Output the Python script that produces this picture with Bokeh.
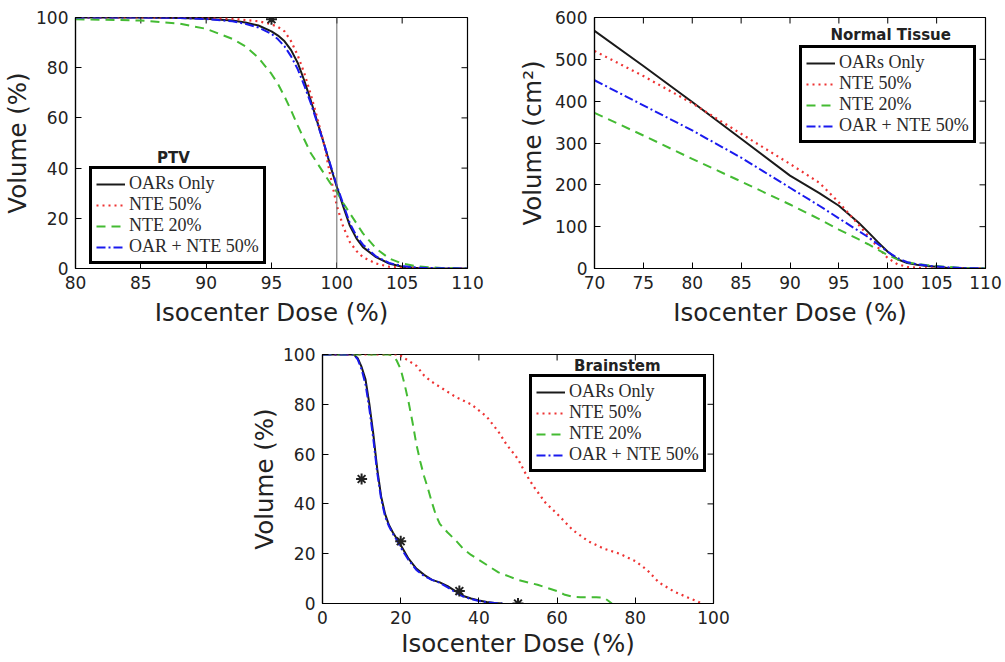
import math
from bokeh.plotting import figure
from bokeh.models import (Range1d, Legend, LegendItem, Label, Span, Spacer, FixedTicker)
from bokeh.layouts import column, row
from bokeh.embed import file_html
from bokeh.resources import INLINE

# ---------------- data ----------------
series_names = ["OARs Only", "NTE 50%", "NTE 20%", "OAR + NTE 50%"]

# PTV
ptv_dose = [80, 85, 88, 90, 92, 93, 94, 95, 95.5, 96, 96.5, 97, 97.5, 98, 98.5, 99,
            99.5, 100, 100.5, 101, 101.5, 102, 103, 104, 105, 106, 107, 108, 110]
ptv_oar = [100, 100, 99.8, 99.5, 98.8, 98, 96.8, 94.5, 92.8, 90.5, 87, 82, 75, 67, 58.5, 50,
           41, 32.5, 24.5, 17, 12, 8.5, 4.5, 2, 0.7, 0.3, 0.1, 0, 0]
ptv_nte50 = [100, 100, 100, 99.8, 99.5, 99, 98.5, 97.3, 96.2, 94.5, 90.5, 85, 78, 69.5, 60, 50,
             37, 25, 16.5, 10.5, 7, 4.5, 2, 0.7, 0.2, 0.1, 0, 0, 0]
ptv_nte20 = [99.3, 98.8, 97.5, 95.5, 91.5, 88.5, 84, 77.5, 73.5, 68.5, 63, 57, 51.5, 46, 42, 38,
             34, 30.5, 26, 22, 18, 14, 8, 4, 2, 1, 0.5, 0.2, 0]
ptv_oar_nte50 = [100, 100, 99.8, 99.4, 98.5, 97.5, 96, 93.5, 91.3, 88.5, 84.5, 79.5, 73, 66, 58, 50,
                 41.5, 33, 25.5, 18, 13, 9.5, 4.8, 2.2, 1, 0.4, 0.2, 0.1, 0]
ptv_ref_dose = 100
ptv_star_x = [95]
ptv_star_y = [99.3]

# Normal tissue
nt_dose = [70, 75, 80, 85, 90, 93, 95, 97, 98, 99, 100, 101, 102, 103, 104, 105, 106, 108, 110]
nt_oar = [568, 484, 398, 310, 222, 180, 150, 110, 87, 63, 40, 22, 13, 9, 6, 4, 2, 0.5, 0]
nt_nte50 = [520, 460, 395, 322, 250, 205, 158, 105, 78, 50, 25, 10, 4, 1.5, 0.5, 0.2, 0, 0, 0]
nt_nte20 = [372, 318, 262, 208, 153, 118, 93, 70, 58, 45, 32, 22, 15, 11, 8, 6, 4, 1, 0]
nt_oar_nte50 = [450, 390, 330, 265, 193, 150, 120, 90, 75, 58, 40, 25, 15, 10, 7, 5, 3, 1, 0]

# Brainstem
bs_oar_dose = [0, 8, 9, 10, 11, 12, 13, 14, 15, 16, 17, 18, 19, 20, 22, 24, 26, 28, 30, 32, 34,
               36, 38, 40, 42, 44, 46]
bs_oar = [100, 100, 98.5, 95, 90, 80, 68, 54, 43, 36, 31.5, 28.5, 26, 23.5, 18, 14, 11.5, 9.5,
          8.5, 7, 5, 3, 2, 1.2, 0.6, 0.2, 0]
bs_oar_nte50 = [100, 100, 98, 94, 88, 78, 66, 52.5, 42, 35, 31, 28, 25.5, 22.5, 17.5, 13.5, 11,
                9.5, 8.3, 6.5, 4.5, 2.8, 1.8, 1, 0.5, 0.2, 0]
bs_nte20_dose = [0, 17, 18, 19, 20, 21, 22, 23, 24, 25, 26, 27, 28, 29, 30, 32, 34, 36, 38, 40,
                 45, 50, 55, 60, 62, 64, 66, 70, 72, 73, 74]
bs_nte20 = [100, 100, 99.5, 97.5, 94, 88, 81, 73, 64, 57, 51, 46, 40.5, 35.5, 32, 28.5, 25.5,
            22, 19.5, 17.5, 12.5, 9.5, 7.5, 5, 3.5, 2.7, 2.5, 2.5, 2.3, 1.2, 0]
bs_nte50_dose = [0, 19.5, 22, 24, 26, 28, 30, 34, 38, 42, 45, 47, 50, 52, 54, 57, 60, 64, 68,
                 72, 76, 80, 83, 86, 90, 93, 96, 97]
bs_nte50 = [100, 100, 97.5, 95.5, 91.5, 89, 87, 83, 80, 75, 69, 64, 58, 52, 47, 40.5, 36, 29.5,
            25, 22, 20, 17, 13.5, 8.5, 4.7, 2.7, 0.8, 0]
bs_star_x = [10, 20, 35, 50]
bs_star_y = [50, 25, 5, 0]

ptv_xticks = [80, 85, 90, 95, 100, 105, 110]
ptv_yticks = [0, 20, 40, 60, 80, 100]
nt_xticks = [70, 75, 80, 85, 90, 95, 100, 105, 110]
nt_yticks = [0, 100, 200, 300, 400, 500, 600]
bs_xticks = [0, 20, 40, 60, 80, 100]
bs_yticks = [0, 20, 40, 60, 80, 100]

# ---------------- style ----------------
styles = [
    dict(line_color="#1a1a1a", line_width=2, line_dash="solid"),
    dict(line_color="#ee3333", line_width=2.2, line_dash="2 4"),
    dict(line_color="#44bb33", line_width=2, line_dash="9 6"),
    dict(line_color="#1a1aee", line_width=2, line_dash="9 3 2 3"),
]
TICK_FONT = "DejaVu Sans"
LEG_FONT = "Liberation Serif"


def make_fig(width, height, xr, yr, xt, yt, ml, mr, mt, mb, ylabel, ylab_standoff, xlab_standoff):
    p = figure(width=width, height=height, x_range=Range1d(*xr), y_range=Range1d(*yr),
               output_backend="svg", toolbar_location=None,
               min_border_left=ml, min_border_right=mr, min_border_top=mt, min_border_bottom=mb,
               background_fill_color="white", border_fill_color="white")
    p.grid.visible = False
    p.outline_line_color = "black"
    p.outline_line_width = 1.2
    for ax, ticks in ((p.xaxis[0], xt), (p.yaxis[0], yt)):
        ax.ticker = FixedTicker(ticks=ticks)
        ax.major_tick_in = 6
        ax.major_tick_out = 0
        ax.minor_tick_line_color = None
        ax.axis_line_color = "black"
        ax.axis_line_width = 1.2
        ax.major_tick_line_color = "black"
        ax.major_label_text_font = TICK_FONT
        ax.major_label_text_font_size = "17px"
        ax.major_label_text_color = "#222222"
        ax.major_label_standoff = 7
        ax.axis_label_text_font = TICK_FONT
        ax.axis_label_text_font_size = "24.5px"
        ax.axis_label_text_font_style = "normal"
        ax.axis_label_text_color = "#222222"
    p.xaxis[0].axis_label = "Isocenter Dose (%)"
    p.xaxis[0].axis_label_standoff = xlab_standoff
    p.yaxis[0].axis_label = ylabel
    p.yaxis[0].axis_label_standoff = ylab_standoff
    # mirrored inward ticks on the top and right edges (clipped to the frame)
    p.scatter(xt, [yr[1]] * len(xt), marker="dash", size=12, angle=math.pi / 2,
              line_color="black", line_width=1)
    p.scatter([xr[1]] * len(yt), yt, marker="dash", size=12,
              line_color="black", line_width=1)
    return p


def add_series(p, xs_list, ys_list):
    rs = []
    for xs, ys, st in zip(xs_list, ys_list, styles):
        rs.append(p.line(xs, ys, **st))
    return rs


def add_legend(p, rs, loc, title, tx, ty):
    p.add_layout(Label(x=tx, y=ty, text=title, text_font=TICK_FONT, text_font_size="15px",
                       text_font_style="bold", text_align="center", text_baseline="middle",
                       text_color="#222222"))
    leg = Legend(items=[LegendItem(label=n, renderers=[r]) for n, r in zip(series_names, rs)],
                 location=loc, orientation="vertical",
                 label_text_font=LEG_FONT, label_text_font_size="18px",
                 label_text_line_height=1.0,
                 label_text_color="#2a2a2a",
                 glyph_width=29, glyph_height=20, label_height=20, label_standoff=4,
                 spacing=0, padding=4, margin=0,
                 border_line_color="black", border_line_width=3, border_line_alpha=1,
                 background_fill_color="white", background_fill_alpha=1)
    p.add_layout(leg)


# PTV
p1 = make_fig(500, 330, (80, 110), (0, 100), ptv_xticks, ptv_yticks, 75, 33, 17, 62,
              "Volume (%)", 1, 6)
p1.add_layout(Span(location=ptv_ref_dose, dimension="height", line_color="#666666",
                   line_width=1))
r1 = add_series(p1, [ptv_dose] * 4, [ptv_oar, ptv_nte50, ptv_nte20, ptv_oar_nte50])
p1.scatter(ptv_star_x, ptv_star_y, marker="asterisk", size=11, line_width=2, color="#222222")
add_legend(p1, r1, (14, 4), "PTV", 87.5, 44.2)

# Normal tissue
p2 = make_fig(505, 330, (70, 110), (0, 600), nt_xticks, nt_yticks, 94, 20, 17, 62,
              "Volume (cm²)", 5, 6)
r2 = add_series(p2, [nt_dose] * 4, [nt_oar, nt_nte50, nt_nte20, nt_oar_nte50])
add_legend(p2, r2, (205, 125), "Normal Tissue", 100.3, 557)

# Brainstem
p3 = make_fig(491, 332, (0, 100), (0, 100), bs_xticks, bs_yticks, 80, 20, 24, 59,
              "Volume (%)", 1, 2)
r3 = add_series(p3, [bs_oar_dose, bs_nte50_dose, bs_nte20_dose, bs_oar_dose],
                [bs_oar, bs_nte50, bs_nte20, bs_oar_nte50])
p3.scatter(bs_star_x, bs_star_y, marker="asterisk", size=11, line_width=2, color="#222222")
add_legend(p3, r3, (207, 131), "Brainstem", 75.4, 95.2)

layout = column(row(p1, p2), row(Spacer(width=242, height=332), p3))
open("out.html", "w").write(file_html(layout, INLINE))
